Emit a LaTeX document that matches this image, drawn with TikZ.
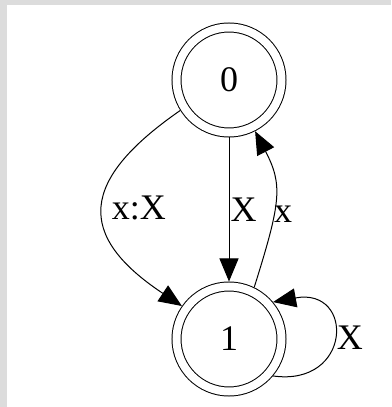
\documentclass[tikz,border=0pt]{standalone}
\usepackage{fontspec}
\setmainfont{Liberation Serif}
\usetikzlibrary{arrows.meta}
\definecolor{framegray}{HTML}{DCDCDC}
\tikzset{
  state/.style={circle, draw, double, double distance=8pt, line width=1pt,
    minimum size=105pt, inner sep=0pt, outer sep=5pt,
    font=\fontsize{36}{43}\selectfont},
  lbl/.style={inner sep=0pt, font=\fontsize{36}{43}\selectfont},
}
\begin{document}
\begin{tikzpicture}[x=1pt, y=1pt, line width=1pt, >={Triangle[length=23pt, width=19pt]}]
  % page and grey frame
  \useasboundingbox (0,0) rectangle (391,407);
  \fill[framegray] (0,0) rectangle (391,407);
  \fill[white] (7,0) rectangle (391,402);
  % states
  \node[state] (s0) at (229,327) {0};
  \node[state] (s1) at (229,68) {1};
  % transitions
  \draw[->] (s0.south) -- (s1.north) node[lbl, midway, right=1pt] {X};
  \draw[->] (s0.212) .. controls (80,227) and (75,172) .. (s1.145)
    node[lbl, pos=0.5, right=8pt] {x:X};
  \draw[->] (s1.64) .. controls (281,205) and (283,222) .. (s0.297)
    node[lbl, pos=0.38, right=0pt] {x};
  \draw[->] (s1.320) .. controls (352,20) and (355,120) .. (s1.40)
    node[lbl, pos=0.5, right=3pt] {X};
\end{tikzpicture}
\end{document}
